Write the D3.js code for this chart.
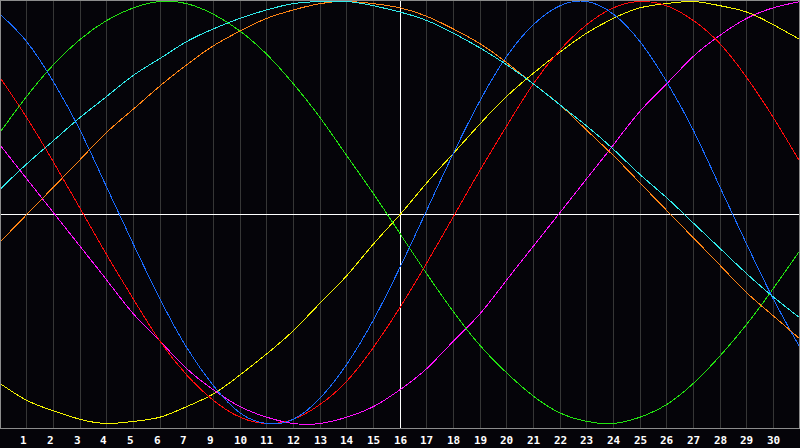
<!DOCTYPE html>
<html>
<head>
<meta charset="utf-8">
<script src="https://cdn.jsdelivr.net/npm/d3@7"></script>
<style>
	html, body { margin: 0; padding: 0; background: #050409; }
	svg { display: block; }
</style>
</head>
<body>
<svg id="chart" width="800" height="448"></svg>
<script>
// day index of every sample (0 = left edge, 30 = right edge)
const days = [0,1,2,3,4,5,6,7,8,9,10,11,12,13,14,15,16,17,18,19,20,21,22,23,24,25,26,27,28,29,30];

// labels under the grid lines 1..29 (the picture skips 8)
const dayLabels = ["1","2","3","4","5","6","7","9","10","11","12","13","14","15","16","17","18","19","20","21","22","23","24","25","26","27","28","29","30"];

// curve values, one per day, range -1..1
const green   = [0.38,0.55,0.70,0.82,0.91,0.97,1.00,0.99,0.94,0.86,0.75,0.61,0.45,0.27,0.09,-0.10,-0.29,-0.47,-0.63,-0.76,-0.87,-0.95,-0.99,-1.00,-0.97,-0.91,-0.81,-0.68,-0.53,-0.36,-0.18];
const blue    = [0.94,0.81,0.62,0.39,0.12,-0.15,-0.41,-0.64,-0.82,-0.95,-1.00,-0.98,-0.88,-0.72,-0.51,-0.26,0.01,0.28,0.53,0.74,0.89,0.98,1.00,0.94,0.81,0.62,0.39,0.12,-0.15,-0.41,-0.64];
const red     = [0.64,0.45,0.24,0.02,-0.20,-0.41,-0.61,-0.77,-0.89,-0.97,-1.00,-0.98,-0.91,-0.80,-0.64,-0.45,-0.24,-0.02,0.20,0.41,0.61,0.77,0.89,0.97,1.00,0.98,0.91,0.80,0.64,0.45,0.24];
const cyan    = [0.11,0.23,0.34,0.45,0.55,0.65,0.73,0.81,0.87,0.92,0.96,0.99,1.00,1.00,0.98,0.95,0.91,0.85,0.78,0.70,0.61,0.51,0.41,0.30,0.18,0.07,-0.05,-0.17,-0.29,-0.40,-0.50];
const orange  = [-0.14,-0.01,0.12,0.25,0.38,0.49,0.60,0.70,0.79,0.86,0.92,0.96,0.99,1.00,0.99,0.97,0.93,0.87,0.80,0.71,0.61,0.51,0.39,0.27,0.14,0.01,-0.12,-0.25,-0.38,-0.49,-0.60];
const yellow  = [-0.81,-0.89,-0.94,-0.98,-1.00,-0.99,-0.97,-0.92,-0.86,-0.77,-0.67,-0.56,-0.43,-0.30,-0.15,-0.01,0.14,0.28,0.42,0.55,0.66,0.76,0.85,0.92,0.97,0.99,1.00,0.98,0.95,0.89,0.82];
const magenta = [0.32,0.16,0.00,-0.16,-0.32,-0.48,-0.61,-0.74,-0.84,-0.92,-0.97,-1.00,-1.00,-0.97,-0.92,-0.84,-0.74,-0.61,-0.48,-0.32,-0.16,0.00,0.16,0.32,0.48,0.61,0.74,0.84,0.92,0.97,1.00];

const todayIndex = 15; // white vertical line

drawChart();

function drawChart() {
	const W = 800, PLOT_H = 428;
	const svg = d3.select("#chart");

	const x = d3.scaleLinear().domain([0, 30]).range([0, W]);
	const y = d3.scaleLinear().domain([-1, 1]).range([423.5, 1.5]);

	// background
	svg.append("rect").attr("width", W).attr("height", 448).attr("fill", "#050409");

	svg.append("clipPath").attr("id", "plotClip")
	   .append("rect").attr("x", 1).attr("y", 1).attr("width", W - 2).attr("height", PLOT_H - 1);

	// vertical grid lines
	const gridIdx = dayLabels.map((d, i) => i + 1);
	svg.append("g").selectAll("line")
	   .data(gridIdx)
	   .join("line")
	   .attr("x1", d => Math.floor(x(d)) + 0.5)
	   .attr("x2", d => Math.floor(x(d)) + 0.5)
	   .attr("y1", 1)
	   .attr("y2", PLOT_H)
	   .attr("stroke", "#363636")
	   .attr("stroke-width", 1)
	   .attr("shape-rendering", "crispEdges");

	// centre cross
	svg.append("line")
	   .attr("x1", 0).attr("x2", W)
	   .attr("y1", 214.5).attr("y2", 214.5)
	   .attr("stroke", "#ffffff").attr("shape-rendering", "crispEdges");
	svg.append("line")
	   .attr("x1", Math.floor(x(todayIndex)) + 0.5).attr("x2", Math.floor(x(todayIndex)) + 0.5)
	   .attr("y1", 1).attr("y2", PLOT_H)
	   .attr("stroke", "#ffffff").attr("shape-rendering", "crispEdges");

	// curves
	const series = [
		{ values: yellow,  color: "#f4f400" },
		{ values: magenta, color: "#ff10ff" },
		{ values: green,   color: "#22e410" },
		{ values: red,     color: "#ff0a0a" },
		{ values: blue,    color: "#1a6cff" },
		{ values: orange,  color: "#ff8414" },
		{ values: cyan,    color: "#30eaea" }
	];

	const line = d3.line()
	   .x((d, i) => x(days[i]))
	   .y(d => y(d))
	   .curve(d3.curveNatural);

	svg.append("g").attr("clip-path", "url(#plotClip)")
	   .selectAll("path")
	   .data(series)
	   .join("path")
	   .attr("d", d => line(d.values))
	   .attr("fill", "none")
	   .attr("stroke", d => d.color)
	   .attr("stroke-width", 1)
	   .attr("shape-rendering", "crispEdges");

	// frame
	svg.append("rect")
	   .attr("x", 0.5).attr("y", 0.5)
	   .attr("width", W - 1).attr("height", PLOT_H)
	   .attr("fill", "none")
	   .attr("stroke", "#8c8c8c")
	   .attr("shape-rendering", "crispEdges");

	// day labels
	svg.append("g").selectAll("text")
	   .data(dayLabels)
	   .join("text")
	   .attr("x", (d, i) => Math.floor(x(i + 1)) - 6)
	   .attr("y", 444)
	   .attr("fill", "#ffffff")
	   .attr("font-family", "'DejaVu Sans Mono', monospace")
	   .attr("font-weight", "bold")
	   .attr("font-size", 11)
	   .text(d => d);
}
</script>
</body>
</html>
